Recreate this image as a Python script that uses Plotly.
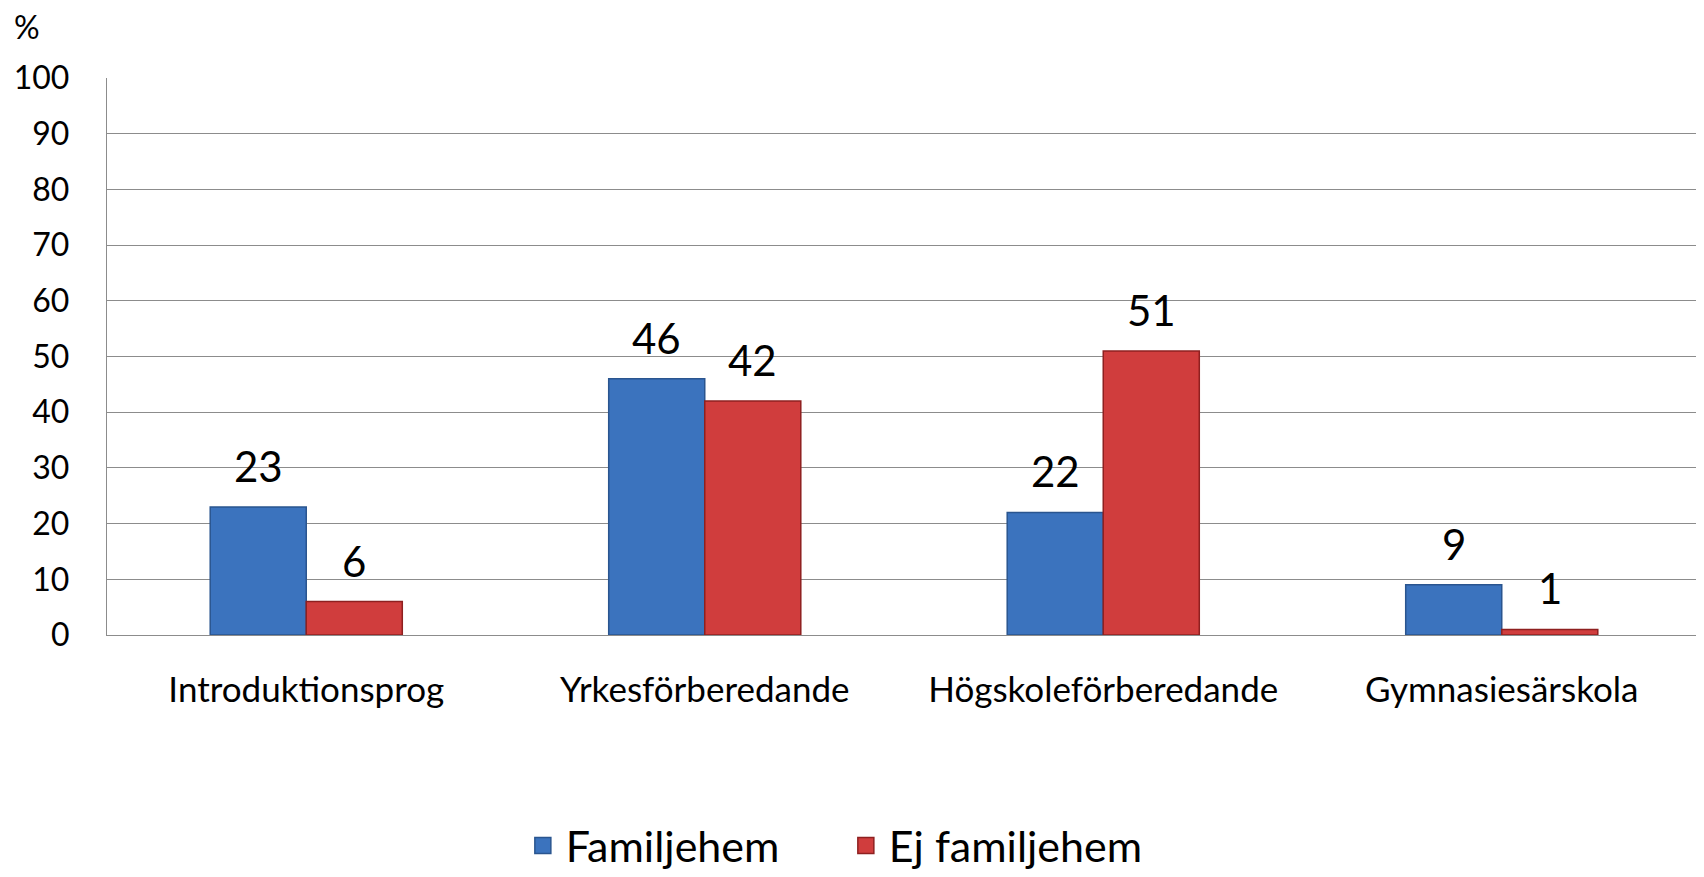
import plotly.graph_objects as go

categories = ["Introduktionsprog", "Yrkesförberedande", "Högskoleförberedande", "Gymnasiesärskola"]
familjehem = [23, 46, 22, 9]
ej_familjehem = [6, 42, 51, 1]
y_ticks = [0, 10, 20, 30, 40, 50, 60, 70, 80, 90, 100]
series_names = ["Familjehem", "Ej familjehem"]

FONT = "Lato, Calibri, sans-serif"
BLUE, BLUE_EDGE = "#3B73BE", "#2A558F"
RED, RED_EDGE = "#D03D3D", "#8E2020"

# figure geometry (page body adds an 8px offset)
W, H = 1696, 869
ML, MR, MT, MB = 99, 3, 70, 242
BARGAP = 0.518
plot_w = W - ML - MR
bar_px = plot_w / len(categories) * (1 - BARGAP) / 2

fig = go.Figure()
series = [(series_names[0], familjehem, BLUE, BLUE_EDGE, -1),
          (series_names[1], ej_familjehem, RED, RED_EDGE, 1)]
annotations = []
for name, vals, col, edge, side in series:
    fig.add_trace(go.Bar(
        name=name, x=categories, y=vals, showlegend=False,
        marker=dict(color=col, line=dict(color=edge, width=1.5)),
        hoverinfo="x+y",
    ))
    for c, v in zip(categories, vals):
        annotations.append(dict(
            x=c, y=v, xref="x", yref="y", text=str(v), showarrow=False,
            xanchor="center", yanchor="bottom", xshift=side * bar_px / 2, yshift=14,
            font=dict(family=FONT, size=42, color="#000000"),
        ))
# legend entries with square symbols
for name, vals, col, edge, side in series:
    fig.add_trace(go.Scatter(
        name=name, x=[None], y=[None], mode="markers",
        marker=dict(symbol="square", size=28, color=col, line=dict(color=edge, width=1.5)),
        showlegend=True,
    ))

annotations.append(dict(text="%", xref="paper", yref="paper", x=-0.050, y=1.0916,
                        xanchor="center", yanchor="middle", showarrow=False,
                        font=dict(family=FONT, size=32)))

fig.update_layout(
    width=W, height=H,
    paper_bgcolor="white", plot_bgcolor="white",
    margin=dict(l=ML, r=MR, t=MT, b=MB, autoexpand=False),
    barmode="group", bargap=BARGAP, bargroupgap=0,
    font=dict(family=FONT, color="#000000"),
    showlegend=True,
    legend=dict(orientation="h", x=0.259, xanchor="left", y=-0.378, yanchor="middle",
                font=dict(family=FONT, size=43), itemsizing="trace", traceorder="normal",
                itemwidth=36, entrywidth=272, bgcolor="rgba(0,0,0,0)"),
    annotations=annotations,
)
fig.update_yaxes(range=[0, 100], tickvals=y_ticks, showgrid=True, gridcolor="#8C8C8C", gridwidth=1.3,
                 showline=True, linecolor="#8C8C8C", linewidth=1.3, zeroline=False,
                 tickfont=dict(family=FONT, size=32), ticks="", ticklabelstandoff=30)
fig.update_xaxes(showline=True, linecolor="#8C8C8C", linewidth=1.3, ticks="",
                 tickfont=dict(family=FONT, size=35), ticklabelstandoff=24)

fig.write_html("out.html")
